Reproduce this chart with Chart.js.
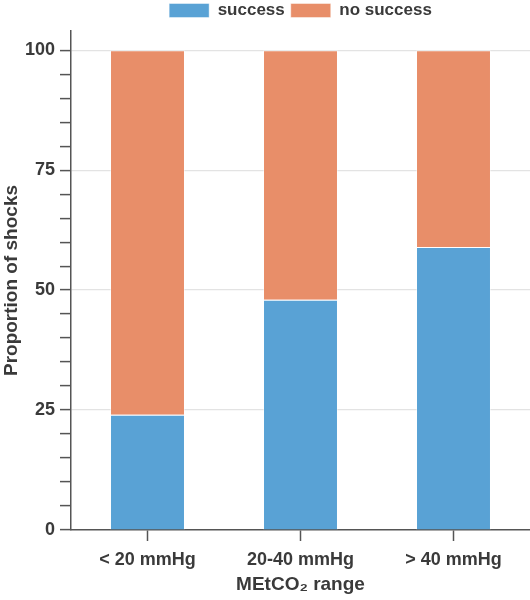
<!DOCTYPE html>
<html>
<head>
<meta charset="utf-8">
<script src="https://cdn.jsdelivr.net/npm/chart.js@4"></script>
<style>
html,body{margin:0;padding:0;background:#fff;}
#wrap{width:530px;height:600px;position:relative;}
</style>
</head>
<body>
<div id="wrap"><canvas id="c" width="530" height="600"></canvas></div>
<script>
const categories = ["< 20 mmHg", "20-40 mmHg", "> 40 mmHg"];
const successValues = [24, 48, 59];
const noSuccessValues = [76, 52, 41];
const yTickLabels = [0, 25, 50, 75, 100];
const yMinorStep = 5;
const seriesNames = ["success", "no success"];

const FONT = "'Liberation Sans', Arial, sans-serif";
const TXT = "#3a3a3a";
const AX = "#555555";

const legendShift = {
  id: 'legendShift',
  afterLayout(chart) {
    const lg = chart.legend;
    if (!lg) return;
    lg.left = chart.chartArea.left;
    lg.right = chart.chartArea.right;
    lg.top -= 2;
    lg.bottom -= 2;
  }
};

new Chart(document.getElementById('c'), {
  type: 'bar',
  plugins: [legendShift],
  data: {
    labels: categories,
    datasets: [
      {label: seriesNames[0], data: successValues, backgroundColor: '#59a2d5', borderColor: 'rgba(255,255,255,0.45)', borderWidth: 1, categoryPercentage: 1, barPercentage: 0.49},
      {label: seriesNames[1], data: noSuccessValues, backgroundColor: '#e88e69', borderColor: 'rgba(255,255,255,0.45)', borderWidth: 1, categoryPercentage: 1, barPercentage: 0.49}
    ]
  },
  options: {
    responsive: false,
    animation: false,
    layout: {padding: {left: 0, right: 0, top: -2, bottom: 0}},
    plugins: {
      legend: {
        position: 'top',
        labels: {
          boxWidth: 40, boxHeight: 14, padding: 6,
          color: TXT,
          font: {family: FONT, size: 17, weight: 'bold'}
        }
      },
      tooltip: {enabled: false}
    },
    scales: {
      x: {
        stacked: true,
        offset: true,
        grid: {offset: false, drawOnChartArea: false, drawTicks: true, tickLength: 11, tickColor: AX, tickWidth: 1.5},
        border: {display: true, color: AX, width: 1.5},
        ticks: {color: TXT, font: {family: FONT, size: 18, weight: 'bold'}, padding: 8, maxRotation: 0},
        title: {display: true, text: 'MEtCO\u2082 range', color: TXT, font: {family: FONT, size: 19, weight: 'bold'}, padding: {top: 0, bottom: 4}},
        afterFit: (s) => { s.height = 70; }
      },
      y: {
        stacked: true,
        min: 0, max: 104,
        afterBuildTicks: (s) => {
          const t = [];
          for (let v = 0; v <= 100; v += yMinorStep) t.push({value: v});
          s.ticks = t;
        },
        grid: {
          drawTicks: true, tickLength: 11, tickWidth: 1.5,
          color: (ctx) => (ctx.tick && yTickLabels.includes(ctx.tick.value) && ctx.tick.value !== 0) ? '#e3e3e3' : 'rgba(0,0,0,0)',
          tickColor: AX,
          lineWidth: 1.2
        },
        border: {display: true, color: AX, width: 1.5},
        ticks: {
          autoSkip: false,
          color: TXT, font: {family: FONT, size: 18, weight: 'bold'}, padding: 5,
          callback: (v) => yTickLabels.includes(v) ? String(v) : ''
        },
        title: {display: true, text: 'Proportion of shocks', color: TXT, font: {family: FONT, size: 19, weight: 'bold'}, padding: {top: 0, bottom: 6}},
        afterFit: (s) => { s.width = 71; }
      }
    }
  }
});
</script>
</body>
</html>
